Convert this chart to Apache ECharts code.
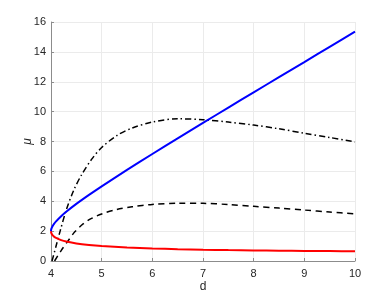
<!DOCTYPE html>
<html><head><meta charset="utf-8">
<script src="https://cdn.jsdelivr.net/npm/echarts@6/dist/echarts.min.js"></script>
<style>html,body{margin:0;padding:0;background:#fff}#c{width:392px;height:294px}</style>
</head><body><div id="c"></div>
<script>
var xTicks = [4, 5, 6, 7, 8, 9, 10];
var yTicks = [0, 2, 4, 6, 8, 10, 12, 14, 16];
var dBranch = [4.0, 4.002, 4.01, 4.03, 4.06, 4.1, 4.2, 4.3, 4.5, 4.75, 5, 5.5, 6, 6.5, 7, 7.5, 8, 8.5, 9, 9.5, 10];
var muUpper = [2.0, 2.078, 2.184, 2.33, 2.49, 2.657, 3.0, 3.295, 3.823, 4.427, 5.0, 6.098, 7.162, 8.208, 9.243, 10.27, 11.29, 12.31, 13.32, 14.34, 15.35];
var muLower = [2.0, 1.923, 1.837, 1.73, 1.63, 1.543, 1.4, 1.305, 1.177, 1.073, 1.0, 0.902, 0.838, 0.792, 0.757, 0.730, 0.708, 0.691, 0.675, 0.663, 0.652];
var dDashDot = [4.02, 4.1, 4.18, 4.3, 4.45, 4.6, 4.8, 5.0, 5.3, 5.6, 6.0, 6.5, 7.0, 7.5, 8.0, 8.5, 9.0, 9.5, 10];
var muDashDot = [0, 1.0, 2.0, 3.4, 4.75, 5.75, 6.8, 7.6, 8.4, 8.9, 9.3, 9.52, 9.46, 9.3, 9.1, 8.85, 8.55, 8.27, 7.97];
var dDashed = [4.07, 4.2, 4.335, 4.47, 4.64, 4.8, 5.0, 5.3, 5.6, 6.0, 6.5, 7.0, 7.5, 8.0, 8.5, 9.0, 9.5, 10];
var muDashed = [0, 0.7, 1.34, 1.95, 2.5, 2.85, 3.15, 3.45, 3.63, 3.79, 3.86, 3.86, 3.78, 3.66, 3.54, 3.41, 3.28, 3.15];

function pairs(xs, ys) { return xs.map(function (x, i) { return [x, ys[i]]; }); }

var chart = echarts.init(document.getElementById('c'), null, {renderer: 'canvas'});
var font = 'Liberation Sans, Arial, Helvetica, sans-serif';
chart.setOption({
  animation: false,
  grid: {left: 51, right: 37, top: 22, bottom: 33, containLabel: false, outerBoundsMode: 'none'},
  xAxis: {
    type: 'value', min: xTicks[0], max: xTicks[xTicks.length - 1], interval: 1,
    name: 'd', nameLocation: 'middle', nameGap: 20, nameMoveOverlap: false,
    nameTextStyle: {color: '#262626', fontSize: 12, fontFamily: font},
    axisLine: {show: true, onZero: false, lineStyle: {color: '#8c8c8c', width: 1}},
    axisTick: {show: true, inside: true, length: 3, lineStyle: {color: '#8c8c8c', width: 1}},
    axisLabel: {color: '#262626', fontSize: 11, fontFamily: font, margin: 7},
    splitLine: {show: true, lineStyle: {color: '#ebebeb', width: 1}}
  },
  yAxis: {
    type: 'value', min: yTicks[0], max: yTicks[yTicks.length - 1], interval: 2,
    name: 'μ', nameLocation: 'middle', nameGap: 17, nameRotate: 90, nameMoveOverlap: false,
    nameTextStyle: {color: '#262626', fontSize: 12, fontStyle: 'italic', fontFamily: font},
    axisLine: {show: true, lineStyle: {color: '#8c8c8c', width: 1}},
    axisTick: {show: true, inside: true, length: 3, lineStyle: {color: '#8c8c8c', width: 1}},
    axisLabel: {color: '#262626', fontSize: 11, fontFamily: font, margin: 5},
    splitLine: {show: true, lineStyle: {color: '#ebebeb', width: 1}}
  },
  series: [
    {type: 'line', data: pairs(dDashed, muDashed), symbol: 'none', smooth: 0.3,
     lineStyle: {color: '#000', width: 1.5, type: [6, 4.5]}},
    {type: 'line', data: pairs(dDashDot, muDashDot), symbol: 'none', smooth: 0.3,
     lineStyle: {color: '#000', width: 1.5, type: [6, 3, 1.5, 3]}},
    {type: 'line', data: pairs(dBranch, muLower), symbol: 'none', smooth: 0.2,
     lineStyle: {color: '#ff0000', width: 2}},
    {type: 'line', data: pairs(dBranch, muUpper), symbol: 'none', smooth: 0.2,
     lineStyle: {color: '#0000ff', width: 2}}
  ]
});
</script></body></html>
